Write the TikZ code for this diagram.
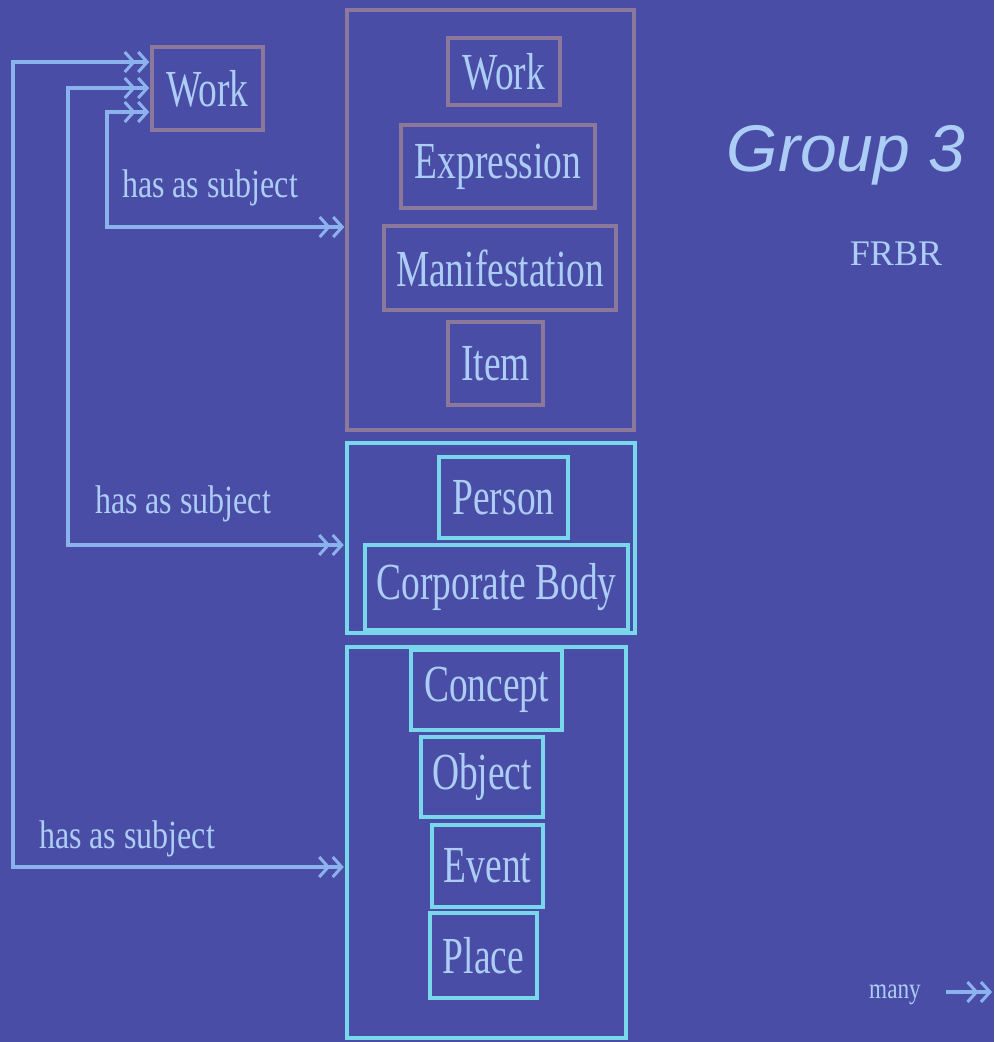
\documentclass[tikz,border=0pt]{standalone}
\usepackage{fontspec}
\usetikzlibrary{arrows.meta}
\setmainfont{Liberation Serif}
\newfontfamily\boxfont[FakeStretch=0.72]{Liberation Serif}
\newfontfamily\labfont[FakeStretch=0.8]{Liberation Serif}
\newfontfamily\headfont{Liberation Sans}
\definecolor{slide}{RGB}{74,77,166}
\definecolor{mauve}{RGB}{140,120,155}
\definecolor{aqua}{RGB}{120,215,235}
\definecolor{pale}{RGB}{172,205,245}
\definecolor{wire}{RGB}{140,178,238}
\tikzset{
  dbl/.tip={Straight Barb[length=9pt,width=20pt,line width=3pt,sep=1pt]},
  ent/.style={draw=mauve,line width=3.5pt,inner sep=0pt,text=pale,font=\boxfont\fontsize{52}{56}\selectfont},
  agent/.style={ent,draw=aqua,line width=4.5pt},
  grp/.style={draw=mauve,line width=3.5pt,inner sep=0pt},
  agrp/.style={grp,draw=aqua,line width=4.5pt},
  lab/.style={text=pale,anchor=base,font=\labfont\fontsize{40}{44}\selectfont},
  rel/.style={draw=wire,line width=3.5pt,{dbl[]dbl}-{dbl[]dbl}},
  relone/.style={draw=wire,line width=3.5pt,-{dbl[]dbl}}
}
\begin{document}
\begin{tikzpicture}[x=1pt,y=-1pt]
\fill[slide] (0,0) rectangle (994,1042);
\useasboundingbox (0,0) rectangle (994,1042);

\node[grp,minimum width=287,minimum height=420] (g1) at (490.5,220) {};
\node[agrp,minimum width=288,minimum height=190] (g2) at (491,538) {};
\node[agrp,minimum width=279,minimum height=391] (g3) at (486.5,842.5) {};

\node[ent,minimum width=111,minimum height=83] (work) at (207.5,88.5) {Work};
\node[ent,minimum width=112,minimum height=67] (work1) at (504,71.5) {Work};
\node[ent,minimum width=194,minimum height=83] (expr) at (498,166.5) {Expression};
\node[ent,minimum width=232,minimum height=84] (mani) at (500,268) {Manifestation};
\node[ent,minimum width=95,minimum height=83] (item) at (495.5,363.5) {Item};

\node[agent,minimum width=129,minimum height=81] (person) at (503.5,497.5) {Person};
\node[agent,minimum width=263,minimum height=85] (corp) at (496.5,587.5) {Corporate Body};

\node[agent,minimum width=151,minimum height=80] (concept) at (486.5,690) {Concept};
\node[agent,minimum width=122,minimum height=80] (object) at (482,777) {Object};
\node[agent,minimum width=111,minimum height=82] (event) at (487.5,866) {Event};
\node[agent,minimum width=107,minimum height=85] (place) at (483.5,955.5) {Place};

\coordinate (a1) at (13,867);
\coordinate (a2) at (13,62);
\coordinate (b1) at (68,545);
\coordinate (b2) at (68,88);
\coordinate (c1) at (107,227);
\coordinate (c2) at (107,112);
\draw[rel] (g3.west |- a1) -- (a1) -- (a2) -- (work.west |- a2);
\draw[rel] (g2.west |- b1) -- (b1) -- (b2) -- (work.west |- b2);
\draw[rel] (g1.west |- c1) -- (c1) -- (c2) -- (work.west |- c2);

\node[lab] (s1) at (210,197) {has as subject};
\node[lab] (s2) at (183,513) {has as subject};
\node[lab] (s3) at (127,848) {has as subject};

\node[text=pale,anchor=base,font=\headfont\itshape\fontsize{66}{70}\selectfont] (title) at (846,171) {Group 3};
\node[text=pale,anchor=base,font=\fontsize{36}{40}\selectfont] (frbr) at (896,265) {FRBR};

\node[lab,font=\labfont\fontsize{29}{32}\selectfont] (many) at (895,998) {many};
\coordinate (manyend) at (993,992);
\draw[relone] (many.east |- manyend) ++(22,0) -- (manyend);
\end{tikzpicture}
\end{document}
